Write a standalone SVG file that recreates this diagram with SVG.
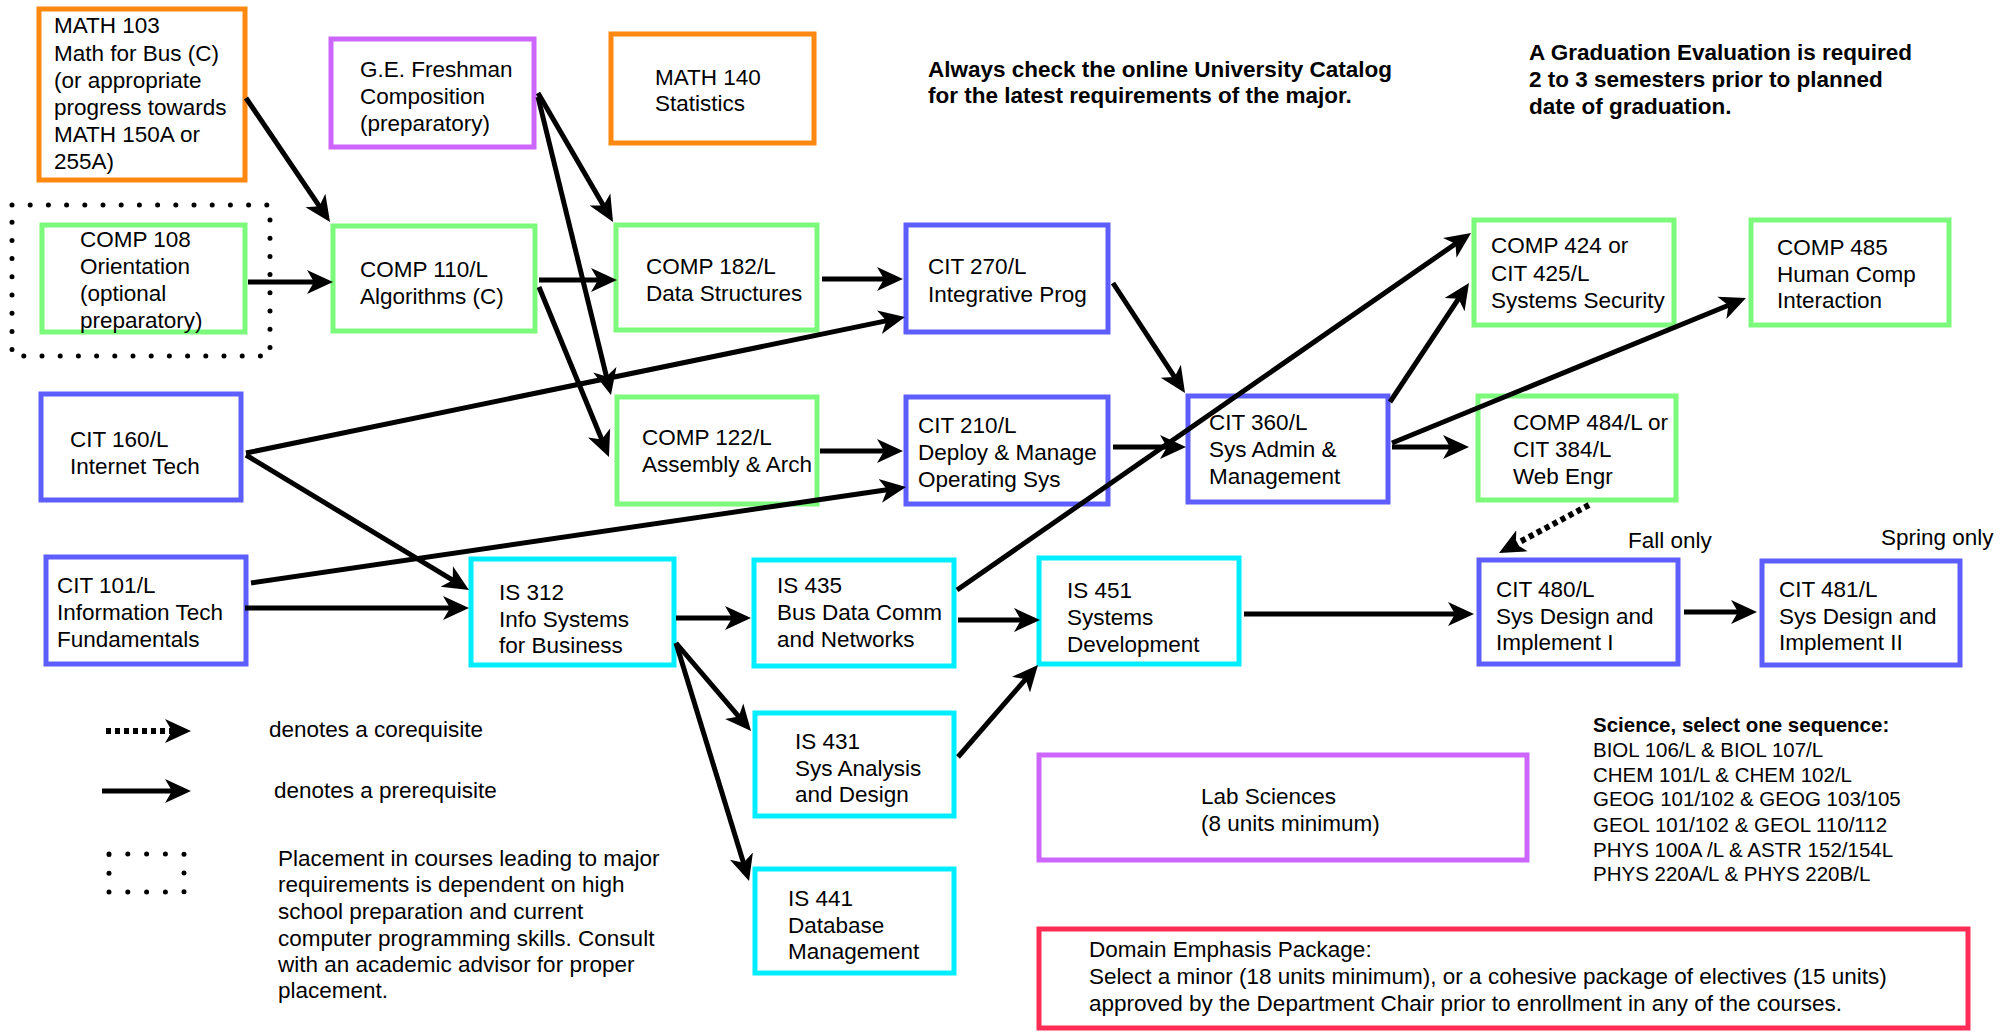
<svg xmlns="http://www.w3.org/2000/svg" width="2015" height="1034" viewBox="0 0 2015 1034">
<style>
  text { font-family: "Liberation Sans", Arial, sans-serif; font-size: 22.5px; fill: #000; }
  .b { font-weight: bold; }
  .sm { font-size: 20.5px; }
  .smb { font-size: 20.5px; font-weight: bold; }
  rect.n { fill: #fff; stroke-width: 5; }
  .org { stroke: #FF8811; }
  .grn { stroke: #7CFA7C; }
  .blu { stroke: #5E5EFF; }
  .cyn { stroke: #00EEFF; }
  .pur { stroke: #CC66FF; }
  .red { stroke: #FF2D55; }
  .dots { fill: none; stroke: #000; stroke-width: 5; stroke-linecap: round; }
  .c { fill: none; stroke: #000; stroke-width: 5; marker-end: url(#arr); }
  .cd { fill: none; stroke: #000; stroke-width: 6; stroke-dasharray: 5 4; marker-end: url(#arr); }
</style>
<defs>
  <marker id="arr" viewBox="0 0 26 26" refX="19" refY="13" markerWidth="26" markerHeight="26" markerUnits="userSpaceOnUse" orient="auto">
    <path d="M0,1 L26,13 L0,25 L7,13 Z" fill="#000"/>
  </marker>
</defs>
<rect width="2015" height="1034" fill="#fff"/>

<g id="nodes">
  <g id="math103">
    <rect class="n org" x="39" y="9" width="206" height="171"/>
    <text x="54" y="33">MATH 103</text>
    <text x="54" y="61">Math for Bus (C)</text>
    <text x="54" y="88">(or appropriate</text>
    <text x="54" y="115">progress towards</text>
    <text x="54" y="142">MATH 150A or</text>
    <text x="54" y="169">255A)</text>
  </g>
  <g id="ge">
    <rect class="n pur" x="331" y="39" width="203" height="108"/>
    <text x="360" y="77">G.E. Freshman</text>
    <text x="360" y="104">Composition</text>
    <text x="360" y="131">(preparatory)</text>
  </g>
  <g id="math140">
    <rect class="n org" x="611" y="34" width="203" height="109"/>
    <text x="655" y="85">MATH 140</text>
    <text x="655" y="111">Statistics</text>
  </g>
  <g id="comp108">
    <rect class="dots" x="12" y="205" width="258" height="151" stroke-dasharray="0 18.2"/>
    <rect class="n grn" x="42" y="225" width="203" height="107"/>
    <text x="80" y="247">COMP 108</text>
    <text x="80" y="274">Orientation</text>
    <text x="80" y="301">(optional</text>
    <text x="80" y="328">preparatory)</text>
  </g>
  <g id="comp110">
    <rect class="n grn" x="333" y="226" width="202" height="105"/>
    <text x="360" y="277">COMP 110/L</text>
    <text x="360" y="304">Algorithms (C)</text>
  </g>
  <g id="comp182">
    <rect class="n grn" x="616" y="225" width="201" height="105"/>
    <text x="646" y="274">COMP 182/L</text>
    <text x="646" y="301">Data Structures</text>
  </g>
  <g id="cit270">
    <rect class="n blu" x="906" y="225" width="202" height="107"/>
    <text x="928" y="274">CIT 270/L</text>
    <text x="928" y="302">Integrative Prog</text>
  </g>
  <g id="cit160">
    <rect class="n blu" x="41" y="394" width="200" height="106"/>
    <text x="70" y="447">CIT 160/L</text>
    <text x="70" y="474">Internet Tech</text>
  </g>
  <g id="comp122">
    <rect class="n grn" x="617" y="397" width="200" height="107"/>
    <text x="642" y="445">COMP 122/L</text>
    <text x="642" y="472">Assembly &amp; Arch</text>
  </g>
  <g id="cit210">
    <rect class="n blu" x="906" y="397" width="202" height="107"/>
    <text x="918" y="433">CIT 210/L</text>
    <text x="918" y="460">Deploy &amp; Manage</text>
    <text x="918" y="487">Operating Sys</text>
  </g>
  <g id="cit360">
    <rect class="n blu" x="1188" y="396" width="200" height="106"/>
    <text x="1209" y="430">CIT 360/L</text>
    <text x="1209" y="457">Sys Admin &amp;</text>
    <text x="1209" y="484">Management</text>
  </g>
  <g id="cit101">
    <rect class="n blu" x="46" y="557" width="200" height="107"/>
    <text x="57" y="593">CIT 101/L</text>
    <text x="57" y="620">Information Tech</text>
    <text x="57" y="647">Fundamentals</text>
  </g>
  <g id="is312">
    <rect class="n cyn" x="471" y="559" width="203" height="106"/>
    <text x="499" y="600">IS 312</text>
    <text x="499" y="627">Info Systems</text>
    <text x="499" y="653">for Business</text>
  </g>
  <g id="is435">
    <rect class="n cyn" x="754" y="560" width="200" height="106"/>
    <text x="777" y="593">IS 435</text>
    <text x="777" y="620">Bus Data Comm</text>
    <text x="777" y="647">and Networks</text>
  </g>
  <g id="is451">
    <rect class="n cyn" x="1039" y="558" width="200" height="106"/>
    <text x="1067" y="598">IS 451</text>
    <text x="1067" y="625">Systems</text>
    <text x="1067" y="652">Development</text>
  </g>
  <g id="comp424">
    <rect class="n grn" x="1474" y="220" width="200" height="105"/>
    <text x="1491" y="253">COMP 424 or</text>
    <text x="1491" y="281">CIT 425/L</text>
    <text x="1491" y="308">Systems Security</text>
  </g>
  <g id="comp485">
    <rect class="n grn" x="1751" y="220" width="198" height="105"/>
    <text x="1777" y="255">COMP 485</text>
    <text x="1777" y="282">Human Comp</text>
    <text x="1777" y="308">Interaction</text>
  </g>
  <g id="comp484">
    <rect class="n grn" x="1478" y="396" width="198" height="104"/>
    <text x="1513" y="430">COMP 484/L or</text>
    <text x="1513" y="457">CIT 384/L</text>
    <text x="1513" y="484">Web Engr</text>
  </g>
  <g id="cit480">
    <rect class="n blu" x="1479" y="560" width="199" height="104"/>
    <text x="1628" y="548">Fall only</text>
    <text x="1496" y="597">CIT 480/L</text>
    <text x="1496" y="624">Sys Design and</text>
    <text x="1496" y="650">Implement I</text>
  </g>
  <g id="cit481">
    <rect class="n blu" x="1762" y="561" width="198" height="104"/>
    <text x="1881" y="545">Spring only</text>
    <text x="1779" y="597">CIT 481/L</text>
    <text x="1779" y="624">Sys Design and</text>
    <text x="1779" y="650">Implement II</text>
  </g>
  <g id="is431">
    <rect class="n cyn" x="755" y="713" width="199" height="103"/>
    <text x="795" y="749">IS 431</text>
    <text x="795" y="776">Sys Analysis</text>
    <text x="795" y="802">and Design</text>
  </g>
  <g id="is441">
    <rect class="n cyn" x="755" y="869" width="199" height="104"/>
    <text x="788" y="906">IS 441</text>
    <text x="788" y="933">Database</text>
    <text x="788" y="959">Management</text>
  </g>
  <g id="lab">
    <rect class="n pur" x="1039" y="755" width="488" height="105"/>
    <text x="1201" y="804">Lab Sciences</text>
    <text x="1201" y="831">(8 units minimum)</text>
  </g>
  <g id="domain">
    <rect class="n red" x="1039" y="929" width="929" height="99"/>
    <text x="1089" y="957">Domain Emphasis Package:</text>
    <text x="1089" y="984">Select a minor (18 units minimum), or a cohesive package of electives (15 units)</text>
    <text x="1089" y="1011">approved by the Department Chair prior to enrollment in any of the courses.</text>
  </g>
</g>

<g id="notes">
  <text class="b" x="928" y="77">Always check the online University Catalog</text>
  <text class="b" x="928" y="103">for the latest requirements of the major.</text>
  <text class="b" x="1529" y="60">A Graduation Evaluation is required</text>
  <text class="b" x="1529" y="87">2 to 3 semesters prior to planned</text>
  <text class="b" x="1529" y="114">date of graduation.</text>
  <text class="smb" x="1593" y="732">Science, select one sequence:</text>
  <text class="sm" x="1593" y="757">BIOL 106/L &amp; BIOL 107/L</text>
  <text class="sm" x="1593" y="782">CHEM 101/L &amp; CHEM 102/L</text>
  <text class="sm" x="1593" y="806">GEOG 101/102 &amp; GEOG 103/105</text>
  <text class="sm" x="1593" y="832">GEOL 101/102 &amp; GEOL 110/112</text>
  <text class="sm" x="1593" y="857">PHYS 100A /L &amp; ASTR 152/154L</text>
  <text class="sm" x="1593" y="881">PHYS 220A/L &amp; PHYS 220B/L</text>
</g>

<g id="legend">
  <path class="cd" d="M106,731 L184,731"/>
  <text x="269" y="737">denotes a corequisite</text>
  <path class="c" d="M102,791 L184,791"/>
  <text x="274" y="798">denotes a prerequisite</text>
  <rect class="dots" x="109" y="854" width="75" height="38" stroke-dasharray="0 18.8"/>
  <text x="278" y="866">Placement in courses leading to major</text>
  <text x="278" y="892">requirements is dependent on high</text>
  <text x="278" y="919">school preparation and current</text>
  <text x="278" y="946">computer programming skills. Consult</text>
  <text x="278" y="972">with an academic advisor for proper</text>
  <text x="278" y="998">placement.</text>
</g>

<g id="connectors">
  <path class="c" d="M246,98 L326.1,216.2"/>
  <path class="c" d="M248,282 L326,282"/>
  <path class="c" d="M538,93 L609.5,215.9"/>
  <path class="c" d="M538,97 L609.3,388.2"/>
  <path class="c" d="M539,280 L610,280"/>
  <path class="c" d="M539,287 L606.3,450.5"/>
  <path class="c" d="M822,279 L896,279"/>
  <path class="c" d="M246,453 L898.1,318.4"/>
  <path class="c" d="M246,455 L463,586.4"/>
  <path class="c" d="M251,583 L899.1,488"/>
  <path class="c" d="M245,608 L462,608"/>
  <path class="c" d="M820,451 L896,451"/>
  <path class="c" d="M1113,283 L1181.2,387.1"/>
  <path class="c" d="M1113,447 L1179,447"/>
  <path class="c" d="M957,590 L1465.3,237"/>
  <path class="c" d="M1390,402 L1465.1,288.8"/>
  <path class="c" d="M1392,443 L1739.5,300.7"/>
  <path class="c" d="M1392,447 L1462,447"/>
  <path class="cd" d="M1589,505 L1505.2,549.7"/>
  <path class="c" d="M676,618 L744,618"/>
  <path class="c" d="M676,643 L746.5,725.7"/>
  <path class="c" d="M676,643 L747,874.3"/>
  <path class="c" d="M958,620 L1033,620"/>
  <path class="c" d="M958,757 L1033.4,670.3"/>
  <path class="c" d="M1244,614 L1467,614"/>
  <path class="c" d="M1684,612 L1750,612"/>
</g>
</svg>
